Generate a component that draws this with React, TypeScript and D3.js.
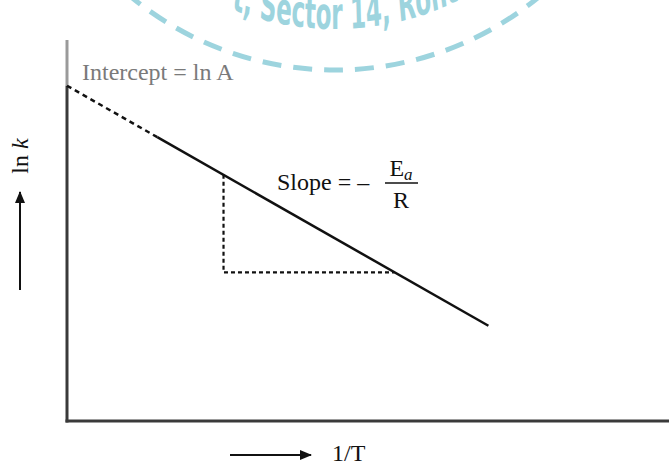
import React from 'react';
import * as d3 from 'd3';

// Arrhenius plot: ln k against 1/T (arbitrary units)
const xDomain = [0, 10];
const yDomain = [0, 10];
const interceptLnA = 8.8;
const dashedPart: [number, number][] = [[0, 8.8], [1.5, 7.45]];
const solidPart: [number, number][] = [[1.5, 7.45], [7.0, 2.5]];
const slopeTriangle: [number, number][] = [[2.6, 6.46], [2.6, 3.9], [5.44, 3.9]];

const W = 669;
const H = 463;
const serif = '"Liberation Serif", "Times New Roman", serif';

const App = () => {
  const x = d3.scaleLinear().domain(xDomain).range([67, 669]);
  const y = d3.scaleLinear().domain(yDomain).range([421, 40]);
  const line = d3.line<[number, number]>()
    .x(d => x(d[0]))
    .y(d => y(d[1]));

  // watermark stamp: dashed ring plus condensed text along an inner circle
  const wmCx = 335;
  const wmCy = -251;
  const wmR = 321;
  const txtR = 280;
  const sx = 0.58; // horizontal squeeze for the condensed lettering
  const rx = txtR / sx;
  const t0 = Math.acos((232 - wmCx) / txtR);
  const t1 = (20 * Math.PI) / 180;
  const textArc = `M${wmCx + rx * Math.cos(t0)},${wmCy + txtR * Math.sin(t0)} A${rx},${txtR} 0 0 0 ${wmCx + rx * Math.cos(t1)},${wmCy + txtR * Math.sin(t1)}`;

  return (
    <svg
      width={W}
      height={H}
      style={{ position: 'absolute', left: 0, top: 0, background: '#fff' }}
    >
      <defs>
        <marker id="arrow" viewBox="0 0 12 10" refX="11" refY="5"
          markerWidth="12" markerHeight="10" markerUnits="userSpaceOnUse" orient="auto">
          <path d="M0,0 L12,5 L0,10 Z" fill="#111" />
        </marker>
        <path id="wm-arc" d={textArc} />
      </defs>

      {/* watermark */}
      <g opacity={0.85}>
        <circle cx={wmCx} cy={wmCy} r={wmR} fill="none" stroke="#8ccdd9"
          strokeWidth={5} strokeDasharray="19 12" />
        <g transform={`translate(${wmCx},0) scale(${sx},1) translate(${-wmCx},0)`}>
          <text fontFamily='"DejaVu Sans Condensed", "DejaVu Sans", sans-serif'
            fontWeight="bold" fontSize={44} fill="#8ccdd9">
            <textPath href="#wm-arc">t, Sector 14, Rohtak</textPath>
          </text>
        </g>
      </g>

      {/* axes */}
      <line x1={x(0)} x2={x(0)} y1={y(10)} y2={y(interceptLnA)} stroke="#9a9a9a" strokeWidth={3} />
      <line x1={x(0)} x2={x(0)} y1={y(interceptLnA)} y2={y(0) + 1.5} stroke="#3a3a3a" strokeWidth={3} />
      <line x1={x(0) - 1.5} x2={x(10)} y1={y(0)} y2={y(0)} stroke="#3a3a3a" strokeWidth={3} />

      {/* fitted line */}
      <path d={line(dashedPart) ?? ''} fill="none" stroke="#111" strokeWidth={2.5} strokeDasharray="5 4" />
      <path d={line(solidPart) ?? ''} fill="none" stroke="#111" strokeWidth={2.5} />
      <path d={line(slopeTriangle) ?? ''} fill="none" stroke="#111" strokeWidth={2.2} strokeDasharray="4 3" />

      {/* labels */}
      <text x={82} y={80} fontFamily={serif} fontSize={24} fill="#7a7a7a">Intercept = ln A</text>
      <text x={277} y={190} fontFamily={serif} fontSize={24} fill="#111">Slope = –</text>
      <text x={401} y={176} fontFamily={serif} fontSize={24} fill="#111" textAnchor="middle">
        E<tspan fontStyle="italic" fontSize={17} dy={4}>a</tspan>
      </text>
      <line x1={385} x2={418} y1={183} y2={183} stroke="#111" strokeWidth={1.5} />
      <text x={401} y={208} fontFamily={serif} fontSize={24} fill="#111" textAnchor="middle">R</text>

      {/* y title */}
      <text transform="translate(28,156) rotate(-90)" fontFamily={serif} fontSize={24}
        fill="#111" textAnchor="middle">
        ln <tspan fontStyle="italic">k</tspan>
      </text>
      <line x1={20} x2={20} y1={290} y2={192} stroke="#111" strokeWidth={2} markerEnd="url(#arrow)" />

      {/* x title */}
      <line x1={230} x2={311} y1={455} y2={455} stroke="#111" strokeWidth={2} markerEnd="url(#arrow)" />
      <text x={332} y={461} fontFamily={serif} fontSize={24} fill="#111">1/T</text>
    </svg>
  );
};

export default App;
